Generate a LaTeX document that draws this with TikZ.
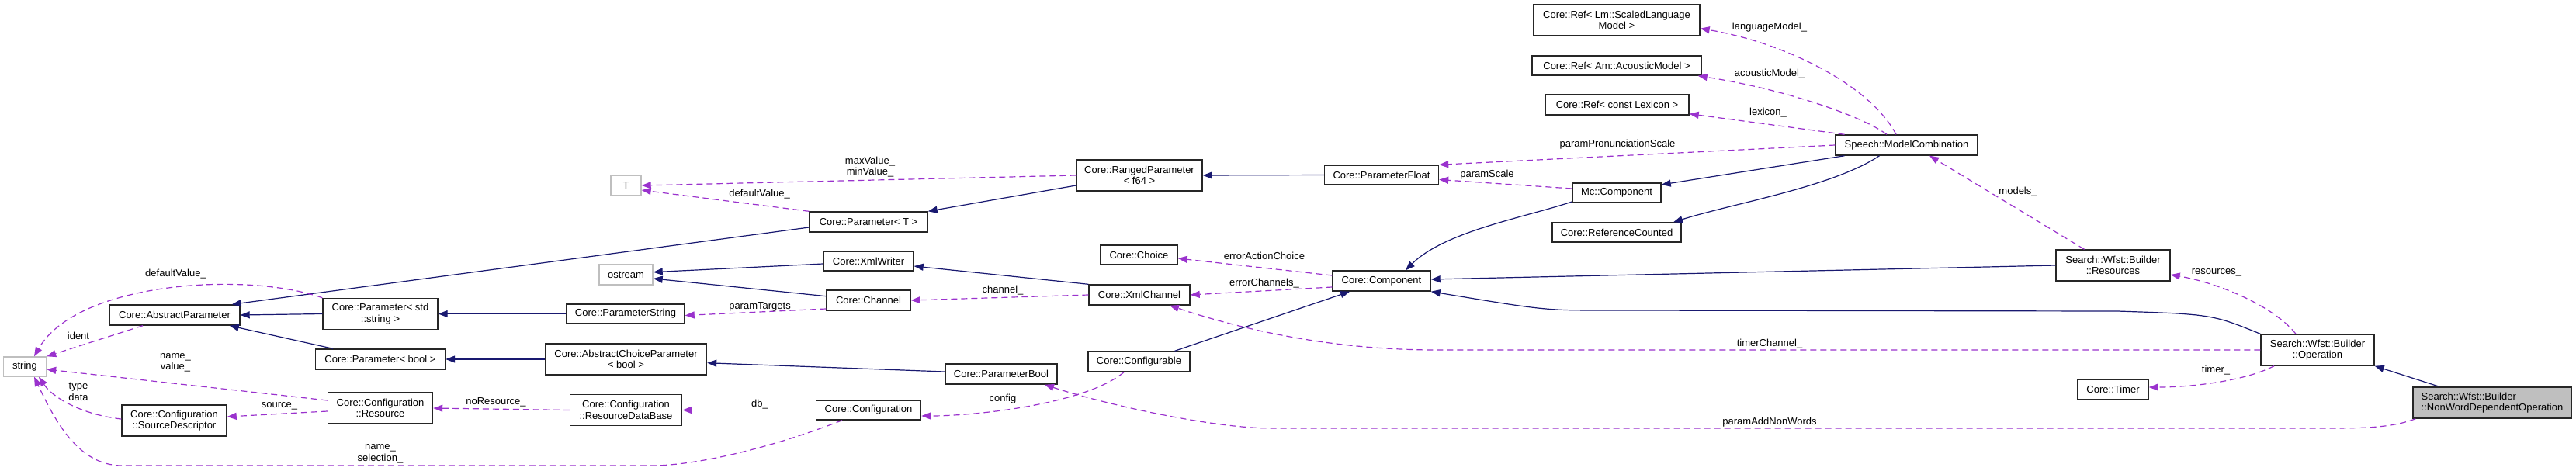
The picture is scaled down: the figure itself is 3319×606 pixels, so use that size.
\documentclass[tikz,border=0pt]{standalone}
\usepackage{fontspec}
\setmainfont{Liberation Sans}
\usepackage{xcolor}
\definecolor{inhblue}{RGB}{25,25,112}
\definecolor{usepurple}{RGB}{154,50,205}
\definecolor{focusgray}{RGB}{191,191,191}
\usepackage{tikz}
\usetikzlibrary{arrows.meta}
\tikzset{
  cls/.style={rectangle, draw=black!85, line width=1.4pt, fill=white,
              inner sep=0pt, minimum height=26pt, align=center,
              font=\fontsize{13}{14.5}\selectfont},
  twoline/.style={minimum height=40pt},
  extcls/.style={cls, draw=black!25},
  focuscls/.style={cls, fill=focusgray, align=left},
  inherit/.style={draw=inhblue, line width=1.2pt,
                  -{Triangle[length=12pt,width=9pt]}},
  uses/.style={draw=usepurple, line width=1.2pt, dash pattern=on 8pt off 5pt,
               -{Triangle[length=12pt,width=9pt]}},
  elabel/.style={font=\fontsize{13}{14.5}\selectfont, inner sep=0pt, align=center},
}
\begin{document}
\begin{tikzpicture}[x=1pt, y=-1pt]
  \useasboundingbox (0,0) rectangle (3319,606);
  % External types
  \node[extcls, minimum width=55pt, minimum height=25pt] (string) at (32,472.5) {string};
  \node[extcls, minimum width=39pt] (tparam) at (806.5,239) {T};
  \node[extcls, minimum width=69pt] (ostream) at (806.5,354) {ostream};
  % Core classes
  \node[cls, minimum width=168pt] (absparam) at (225,406) {Core::AbstractParameter};
  \node[cls, twoline, minimum width=148pt] (paramstr) at (490,404.5) {Core::Parameter< std\\::string >};
  \node[cls, minimum width=167pt] (parambool) at (490,463) {Core::Parameter< bool >};
  \node[cls, twoline, minimum width=135pt] (cfgresource) at (490,526) {Core::Configuration\\::Resource};
  \node[cls, twoline, minimum width=135pt] (srcdesc) at (224.5,542) {Core::Configuration\\::SourceDescriptor};
  \node[cls, minimum width=152pt] (paramT) at (1119,286) {Core::Parameter< T >};
  \node[cls, minimum width=116pt, minimum height=25pt] (xmlwriter) at (1119,336.5) {Core::XmlWriter};
  \node[cls, minimum width=108pt] (channel) at (1119,387) {Core::Channel};
  \node[cls, minimum width=152pt, minimum height=25pt] (paramstring) at (806,404.5) {Core::ParameterString};
  \node[cls, twoline, minimum width=208pt] (abschoice) at (806.5,463) {Core::AbstractChoiceParameter\\< bool >};
  \node[cls, twoline, minimum width=144pt] (resdb) at (806.5,528.5) {Core::Configuration\\::ResourceDataBase};
  \node[cls, minimum width=135pt, minimum height=25pt] (config) at (1119,528.5) {Core::Configuration};
  \node[cls, twoline, minimum width=162pt] (ranged) at (1468,226) {Core::RangedParameter\\< f64 >};
  \node[cls, minimum width=99pt, minimum height=25pt] (choice) at (1467.5,328.5) {Core::Choice};
  \node[cls, minimum width=130pt] (xmlchannel) at (1468,380) {Core::XmlChannel};
  \node[cls, minimum width=131pt] (configurable) at (1467.5,466) {Core::Configurable};
  \node[cls, minimum width=144pt] (parambool2) at (1290,482) {Core::ParameterBool};
  \node[cls, minimum width=147pt, minimum height=25pt] (paramfloat) at (1780,225.5) {Core::ParameterFloat};
  \node[cls, minimum width=126pt] (component) at (1780,362) {Core::Component};
  \node[cls, twoline, minimum width=214pt] (reflm) at (2083,26) {Core::Ref< Lm::ScaledLanguage\\Model >};
  \node[cls, minimum width=218pt, minimum height=25pt] (refam) at (2083,84.5) {Core::Ref< Am::AcousticModel >};
  \node[cls, minimum width=185pt] (reflex) at (2083.5,135) {Core::Ref< const Lexicon >};
  \node[cls, minimum width=114pt, minimum height=25pt] (mccomp) at (2083,248.5) {Mc::Component};
  \node[cls, minimum width=166pt, minimum height=25pt] (refcount) at (2083,299.5) {Core::ReferenceCounted};
  \node[cls, minimum width=183pt] (modelcomb) at (2456.5,187) {Speech::ModelCombination};
  \node[cls, twoline, minimum width=147pt] (resources) at (2722.5,342) {Search::Wfst::Builder\\::Resources};
  \node[cls, minimum width=91pt] (timer) at (2722.5,502) {Core::Timer};
  \node[cls, twoline, minimum width=146pt] (operation) at (2986,451) {Search::Wfst::Builder\\::Operation};
  \node[focuscls, twoline, minimum width=204pt] (nwdo) at (3211,519) {Search::Wfst::Builder\\::NonWordDependentOperation};
  % Inheritance
  \draw[inherit] ([yshift=-7pt]paramT.west) -- ([xshift=-11pt]absparam.north east);
  \draw[inherit] (paramstr.west) -- (absparam.east);
  \draw[inherit] ([xshift=-61pt]parambool.north) -- ([xshift=-14pt]absparam.south east);
  \draw[inherit] (paramstring.west) -- (paramstr.east);
  \draw[inherit] (abschoice.west) -- (parambool.east);
  \draw[inherit] ([yshift=-3.5pt]xmlwriter.west) -- ([yshift=3.3pt]ostream.east);
  \draw[inherit] ([yshift=5.3pt]channel.west) -- ([yshift=-5pt]ostream.east);
  \draw[inherit] (xmlchannel.north west) -- ([yshift=-6.5pt]xmlwriter.east);
  \draw[inherit] ([yshift=3pt]parambool2.west) -- ([yshift=-4.7pt]abschoice.east);
  \draw[inherit] (paramfloat.west) -- (ranged.east);
  \draw[inherit] ([yshift=-13pt]ranged.west) -- (paramT.north east);
  \draw[inherit] ([xshift=46pt]configurable.north) -- ([xshift=-41pt]component.south);
  \draw[inherit] ([yshift=-11.5pt]mccomp.west) .. controls +(-60,20) and +(50,-50) .. ([xshift=31pt]component.north);
  \draw[inherit] ([xshift=-80pt]modelcomb.south) -- ([yshift=10.5pt]mccomp.east);
  \draw[inherit] ([xshift=-35pt]modelcomb.south) .. controls +(-60,40) and +(80,-25) .. ([xshift=73pt]refcount.north);
  \draw[inherit] (resources.west) -- ([yshift=2pt]component.east);
  \draw[inherit] (operation.north west) .. controls (2850,405) .. (2728,401) -- (2071,400)
    .. controls (1990,400) .. (component.south east);
  \draw[inherit] ([xshift=-68pt]nwdo.north) -- (operation.south east);
  % Members
  \draw[uses] (paramstr.north west) .. controls (320,350) and (100,362) .. ([xshift=12pt]string.north);
  \draw[uses] ([xshift=-41pt]absparam.south) -- (string.north east);
  \draw[uses] ([yshift=10pt]cfgresource.west) -- ([yshift=-3.5pt]string.east);
  \draw[uses] ([yshift=2pt]srcdesc.west) .. controls (110,535) and (70,515) .. ([xshift=18pt]string.south);
  \draw[uses] ([xshift=-34pt]config.south) .. controls (1000,575) and (900,600) .. (840,600) -- (157,600)
    .. controls (100,600) and (70,540) .. ([xshift=12pt]string.south);
  \draw[uses] ([yshift=-4pt]cfgresource.west) -- ([yshift=5pt]srcdesc.east);
  \draw[uses] (resdb.west) -- (cfgresource.east);
  \draw[uses] (config.west) -- (resdb.east);
  \draw[uses] ([xshift=-19.5pt]configurable.south) .. controls (1400,520) and (1260,536) .. ([yshift=-7.5pt]config.east);
  \draw[uses] ([yshift=-11pt]channel.west) -- ([yshift=-2pt]paramstring.east);
  \draw[uses] (xmlchannel.west) -- (channel.east);
  \draw[uses] ([yshift=7pt]component.west) -- ([yshift=-4.5pt]choice.east);
  \draw[uses] ([yshift=-8pt]component.west) -- (xmlchannel.east);
  \draw[uses] (operation.west) -- (1850,451) .. controls (1700,451) and (1580,418) .. ([xshift=39pt]xmlchannel.south);
  \draw[uses] ([xshift=4pt]nwdo.south west) .. controls (3080,552) and (3040,552) .. (2990,552) -- (1640,552)
    .. controls (1560,552) and (1420,520) .. ([xshift=56pt]parambool2.south);
  \draw[uses] ([xshift=-56pt]operation.south) .. controls (2890,492) and (2820,499) .. ([yshift=3pt]timer.east);
  \draw[uses] ([xshift=-28pt]operation.north) .. controls (2930,395) and (2860,365) .. ([yshift=-12pt]resources.east);
  \draw[uses] ([xshift=-37pt]resources.north) -- ([xshift=29.5pt]modelcomb.south);
  \draw[uses] ([xshift=-13.5pt]modelcomb.north) .. controls (2410,110) and (2300,55) .. ([yshift=-10.7pt]reflm.east);
  \draw[uses] ([xshift=-25.5pt]modelcomb.north) .. controls (2400,150) and (2300,115) .. ([xshift=-5pt]refam.south east);
  \draw[uses] ([xshift=-80pt]modelcomb.north) -- ([yshift=-11.7pt]reflex.east);
  \draw[uses] (modelcomb.west) -- (paramfloat.north east);
  \draw[uses] ([yshift=5.5pt]mccomp.west) -- ([yshift=-6pt]paramfloat.east);
  \draw[uses] (ranged.west) -- (tparam.east);
  \draw[uses] (paramT.north west) -- ([yshift=-6pt]tparam.east);
  % Member labels
  \node[elabel] (lblmaxmin) at (1121,215) {maxValue\_\\minValue\_};
  \node[elabel] (lbldefT) at (978.6,250) {defaultValue\_};
  \node[elabel] (lbldefstr) at (226.5,353) {defaultValue\_};
  \node[elabel] (lblident) at (101,433) {ident};
  \node[elabel] (lblnameval) at (226,467.5) {name\_\\value\_};
  \node[elabel] (lbltypedata) at (101,505) {type\\data};
  \node[elabel] (lblsource) at (360,523) {source\_};
  \node[elabel] (lblnamesel) at (490,585) {name\_\\selection\_};
  \node[elabel] (lblnores) at (639,518) {noResource\_};
  \node[elabel] (lbldb) at (979,521) {db\_};
  \node[elabel] (lbltargets) at (979,395) {paramTargets};
  \node[elabel] (lblchannel) at (1292,374) {channel\_};
  \node[elabel] (lblconfig) at (1292,514) {config};
  \node[elabel] (lblerrchoice) at (1629,330) {errorActionChoice};
  \node[elabel] (lblerrchan) at (1629,365) {errorChannels\_};
  \node[elabel] (lblscale) at (1916,225) {paramScale};
  \node[elabel] (lblpronscale) at (2084,186) {paramPronunciationScale};
  \node[elabel] (lbllm) at (2280,35) {languageModel\_};
  \node[elabel] (lblam) at (2280,95) {acousticModel\_};
  \node[elabel] (lbllex) at (2278,145) {lexicon\_};
  \node[elabel] (lblmodels) at (2600,247) {models\_};
  \node[elabel] (lbltimerchan) at (2280,443) {timerChannel\_};
  \node[elabel] (lbladdnon) at (2280,544) {paramAddNonWords};
  \node[elabel] (lblresources) at (2856,351) {resources\_};
  \node[elabel] (lbltimer) at (2855,477) {timer\_};
\end{tikzpicture}
\end{document}
